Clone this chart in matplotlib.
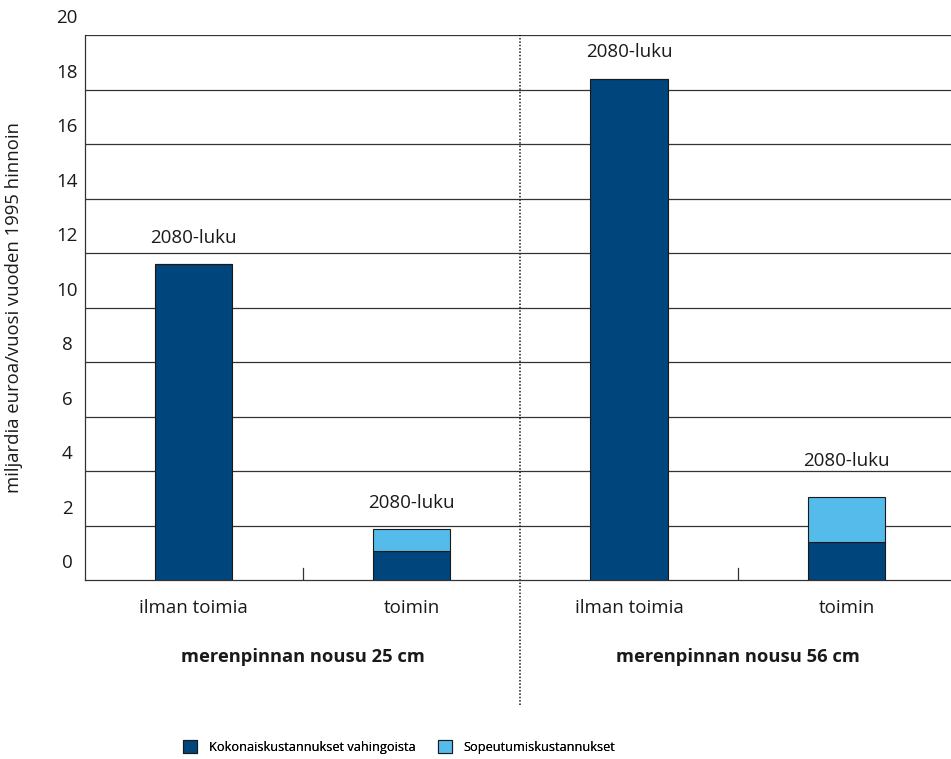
import numpy as np
import matplotlib.pyplot as plt
from matplotlib.patches import Patch

plt.rcParams['font.family'] = ['Open Sans', 'DejaVu Sans']

categories = ['ilman toimia', 'toimin', 'ilman toimia', 'toimin']
groups = ['merenpinnan nousu 25 cm', 'merenpinnan nousu 56 cm']
damage = [11.6, 1.05, 18.4, 1.4]
adapt = [0.0, 0.82, 0.0, 1.64]
bar_label = '2080-luku'
yticks = [0, 2, 4, 6, 8, 10, 12, 14, 16, 18, 20]
legend_labels = ['Kokonaiskustannukset vahingoista', 'Sopeutumiskustannukset']

dark = '#00457C'
light = '#55BBEA'
txt = '#1a1a1a'

fig = plt.figure(figsize=(9.51, 7.59), dpi=100)
ax = fig.add_axes([85/951, 1 - 580/759, 866/951, 545/759])

x = np.arange(len(categories))
w = 0.355
ax.bar(x, damage, w, color=dark, edgecolor=txt, linewidth=0.8, zorder=3)
ax.bar(x, adapt, w, bottom=damage, color=light, edgecolor=txt, linewidth=0.8, zorder=3)

# labels above bars
extra = [0, 0, 0, 7]
for i in range(len(x)):
    top = damage[i] + adapt[i]
    ax.annotate(bar_label, (x[i], top), xytext=(0, 19 + extra[i]), textcoords='offset points',
                ha='center', va='center', fontsize=13.5, color=txt)

ax.set_xlim(-0.5, 3.48)
ax.set_ylim(0, 20)
for t in yticks[1:]:
    ax.axhline(t, color='#333333', linewidth=0.9, zorder=1)

# y tick labels sit above their gridlines
ax.set_yticks(yticks)
ax.set_yticklabels([])
ax.tick_params(axis='y', length=0)
ytr = ax.get_yaxis_transform()
for t in yticks:
    ax.annotate(str(t), (0, t), xycoords=ytr, xytext=(-13, 12), textcoords='offset points',
                ha='center', va='center', fontsize=13.5, color=txt, annotation_clip=False)

ax.set_xticks(x)
ax.set_xticklabels(categories, fontsize=13.5, color=txt)
ax.tick_params(axis='x', length=0, pad=14)

for s in ['top', 'right']:
    ax.spines[s].set_visible(False)
for s in ['left', 'bottom']:
    ax.spines[s].set_color('#333333')
    ax.spines[s].set_linewidth(0.9)

# small separators at bottom
for sx in [0.5, 2.5]:
    ax.plot([sx, sx], [0, 0.45], color='#333333', linewidth=0.9, zorder=2)
ax.plot([1.5, 1.5], [-4.6, 20], color=txt, linewidth=1.1, linestyle=(0, (1, 1.2)),
        clip_on=False, zorder=2)

for gx, g in zip([0.5, 2.5], groups):
    ax.text(gx, -2.82, g, ha='center', va='center', fontsize=13.2, fontweight='bold', color=txt)

ax.set_ylabel('miljardia euroa/vuosi vuoden 1995 hinnoin', fontsize=13.3, color=txt)
ax.yaxis.set_label_coords(-62/866, 0.5)

# legend entries, each anchored separately
for lab, col, lx in zip(legend_labels, [dark, light], [183, 438]):
    h = Patch(facecolor=col, edgecolor=txt, linewidth=0.8, label=lab)
    leg = fig.legend(handles=[h], loc='center left', bbox_to_anchor=(lx/951, 1 - 747/759),
                     frameon=False, borderpad=0, borderaxespad=0, fontsize=9.2,
                     handlelength=1.1, handleheight=1.1, handletextpad=0.9)
    fig.add_artist(leg)

fig.savefig('out.png', dpi=100)
